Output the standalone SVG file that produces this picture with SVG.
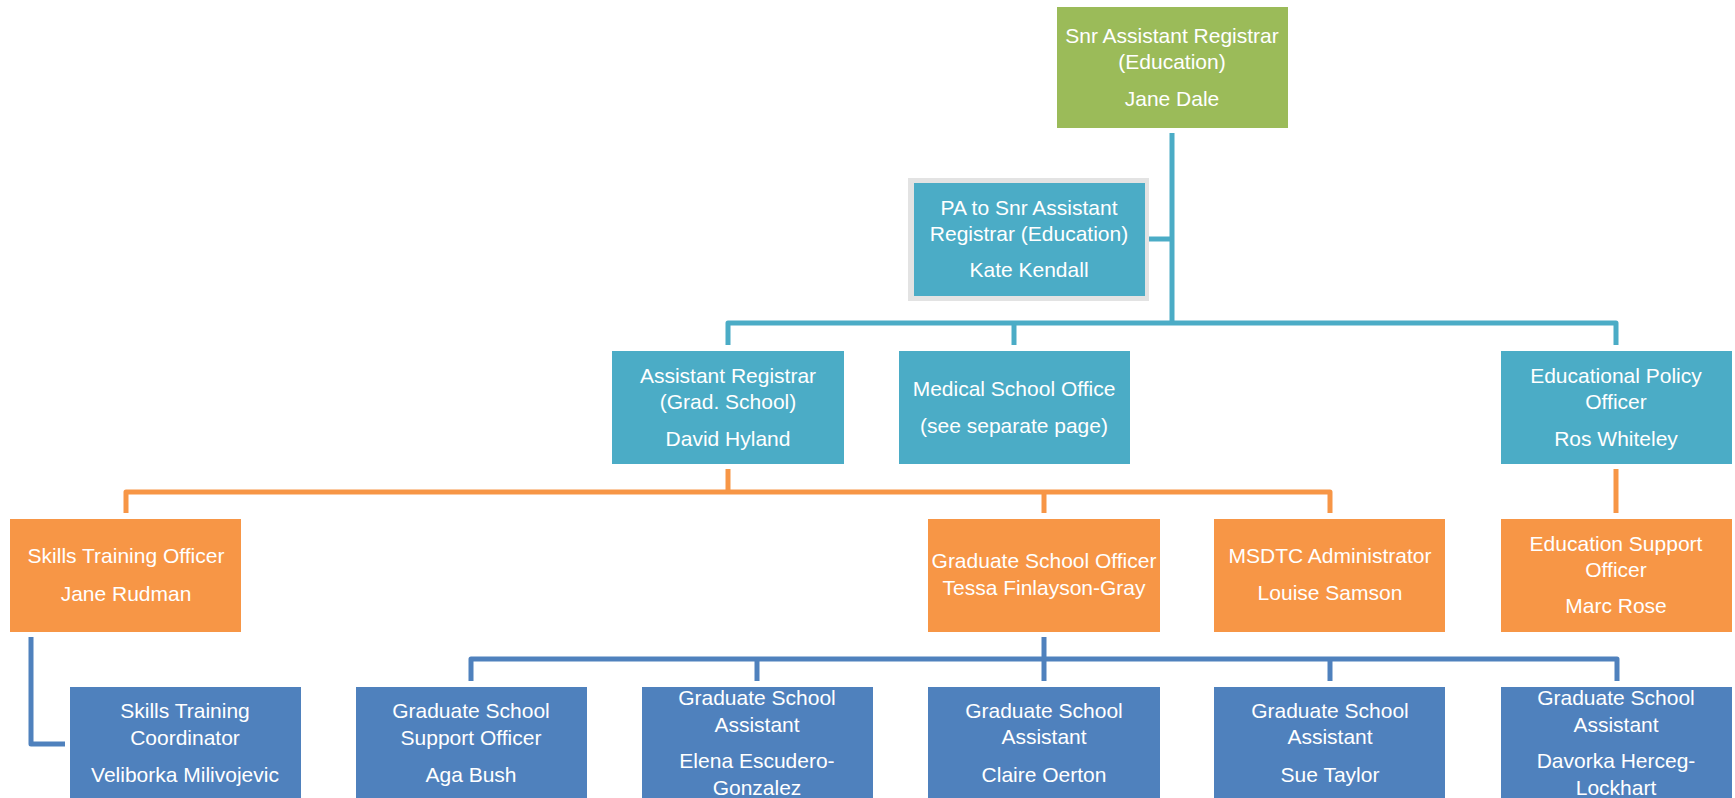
<svg xmlns="http://www.w3.org/2000/svg" width="1735" height="798" viewBox="0 0 1735 798">
<style>
text{font-family:"Liberation Sans",Arial,sans-serif;font-size:21px;fill:#ffffff;text-anchor:middle}
.g{fill:#9BBB59}.t{fill:#4BACC6}.o{fill:#F79646}.b{fill:#4F81BD}
.ct{fill:none;stroke:#4BACC6;stroke-width:5;stroke-linejoin:round}
.co{fill:none;stroke:#F79646;stroke-width:5;stroke-linejoin:round}
.cb{fill:none;stroke:#4F81BD;stroke-width:5;stroke-linejoin:round}
</style>
<rect width="1735" height="798" fill="#ffffff"/>
<g id="connectors">
<path class="ct" d="M1172,133 V323"/>
<path class="ct" d="M1149,239 H1172"/>
<path class="ct" d="M728,345 V323 H1616 V345"/>
<path class="ct" d="M1014,323 V345"/>
<path class="co" d="M728,469 V492"/>
<path class="co" d="M126,513 V492 H1330 V513"/>
<path class="co" d="M1044,492 V513"/>
<path class="co" d="M1616,469 V513"/>
<path class="cb" d="M1044,637 V659"/>
<path class="cb" d="M471,681 V659 H1617 V681"/>
<path class="cb" d="M757,659 V681"/>
<path class="cb" d="M1044,659 V681"/>
<path class="cb" d="M1330,659 V681"/>
<path class="cb" d="M31,637 V744 H65"/>
</g>
<g id="n-snr">
<rect class="g" x="1057" y="7" width="231" height="121"/>
<text x="1172" y="43">Snr Assistant Registrar</text>
<text x="1172" y="69">(Education)</text>
<text x="1172" y="106">Jane Dale</text>
</g>
<g id="n-pa">
<rect x="908" y="178" width="241" height="123" fill="#E3E3E3"/>
<rect class="t" x="914" y="183" width="231" height="113"/>
<text x="1029" y="215">PA to Snr Assistant</text>
<text x="1029" y="241">Registrar (Education)</text>
<text x="1029" y="277">Kate Kendall</text>
</g>
<g id="n-ar">
<rect class="t" x="612" y="351" width="232" height="113"/>
<text x="728" y="383">Assistant Registrar</text>
<text x="728" y="409">(Grad. School)</text>
<text x="728" y="446">David Hyland</text>
</g>
<g id="n-med">
<rect class="t" x="899" y="351" width="231" height="113"/>
<text x="1014" y="396">Medical School Office</text>
<text x="1014" y="433">(see separate page)</text>
</g>
<g id="n-epo">
<rect class="t" x="1501" y="351" width="231" height="113"/>
<text x="1616" y="383">Educational Policy</text>
<text x="1616" y="409">Officer</text>
<text x="1616" y="446">Ros Whiteley</text>
</g>
<g id="n-sto">
<rect class="o" x="10" y="519" width="231" height="113"/>
<text x="126" y="563">Skills Training Officer</text>
<text x="126" y="601">Jane Rudman</text>
</g>
<g id="n-gso">
<rect class="o" x="928" y="519" width="232" height="113"/>
<text x="1044" y="568">Graduate School Officer</text>
<text x="1044" y="595">Tessa Finlayson-Gray</text>
</g>
<g id="n-msdtc">
<rect class="o" x="1214" y="519" width="231" height="113"/>
<text x="1330" y="563">MSDTC Administrator</text>
<text x="1330" y="600">Louise Samson</text>
</g>
<g id="n-eso">
<rect class="o" x="1501" y="519" width="231" height="113"/>
<text x="1616" y="551">Education Support</text>
<text x="1616" y="577">Officer</text>
<text x="1616" y="613">Marc Rose</text>
</g>
<g id="n-stc">
<rect class="b" x="70" y="687" width="231" height="113"/>
<text x="185" y="718">Skills Training</text>
<text x="185" y="745">Coordinator</text>
<text x="185" y="782">Veliborka Milivojevic</text>
</g>
<g id="n-gsso">
<rect class="b" x="356" y="687" width="231" height="113"/>
<text x="471" y="718">Graduate School</text>
<text x="471" y="745">Support Officer</text>
<text x="471" y="782">Aga Bush</text>
</g>
<g id="n-gsa1">
<rect class="b" x="642" y="687" width="231" height="113"/>
<text x="757" y="705">Graduate School</text>
<text x="757" y="732">Assistant</text>
<text x="757" y="768">Elena Escudero-</text>
<text x="757" y="795">Gonzalez</text>
</g>
<g id="n-gsa2">
<rect class="b" x="928" y="687" width="232" height="113"/>
<text x="1044" y="718">Graduate School</text>
<text x="1044" y="744">Assistant</text>
<text x="1044" y="782">Claire Oerton</text>
</g>
<g id="n-gsa3">
<rect class="b" x="1214" y="687" width="231" height="113"/>
<text x="1330" y="718">Graduate School</text>
<text x="1330" y="744">Assistant</text>
<text x="1330" y="782">Sue Taylor</text>
</g>
<g id="n-gsa4">
<rect class="b" x="1501" y="687" width="231" height="113"/>
<text x="1616" y="705">Graduate School</text>
<text x="1616" y="732">Assistant</text>
<text x="1616" y="768">Davorka Herceg-</text>
<text x="1616" y="795">Lockhart</text>
</g>
</svg>
